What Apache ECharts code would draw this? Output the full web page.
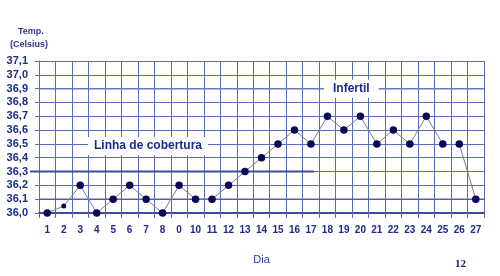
<!DOCTYPE html>
<html><head><meta charset="utf-8">
<script src="https://cdn.jsdelivr.net/npm/echarts@6/dist/echarts.min.js"></script>
<style>html,body{margin:0;padding:0;background:#fff}#c{width:500px;height:276px}</style>
</head><body><div id="c"></div>
<script>
const days = ['1','2','3','4','5','6','7','8','0','10','11','12','13','14','15','16','17','18','19','20','21','22','23','24','25','26','27'];
const temps = [36.0,36.05,36.2,36.0,36.1,36.2,36.1,36.0,36.2,36.1,36.1,36.2,36.3,36.4,36.5,36.6,36.5,36.7,36.6,36.7,36.5,36.6,36.5,36.7,36.5,36.5,36.1];
const segmentBreak = 25; // no connecting line between day 25 and day 26
const yMin = 36.0, yMax = 37.1, yStep = 0.1;
const coverageLevel = 36.3;
const infertileLevel = 36.9;
const axisTitle = ['Temp.', '(Celsius)'];
const xName = 'Dia';
const pageNo = '12';

const seg1 = temps.map((v, i) => i < segmentBreak ? v : null);
const seg2 = temps.map((v, i) => i >= segmentBreak ? v : null);

const gridColor = '#5a6ab6';
const navy = '#1c2a8c';
const chart = echarts.init(document.getElementById('c'), null, {renderer: 'canvas'});
const symSize = (v, p) => p.dataIndex === 1 ? 5 : 7.5;
const lineSeries = (data) => ({
  type: 'line', data: data, connectNulls: false, symbol: 'circle', symbolSize: symSize,
  itemStyle: {color: '#07075a'}, lineStyle: {color: '#7a7a92', width: 1}, z: 5, animation: false
});
chart.setOption({
  animation: false,
  grid: {left: 39, right: 16, top: 61, bottom: 63},
  xAxis: {
    type: 'category', data: days, boundaryGap: true,
    name: xName, nameLocation: 'middle', nameGap: 41,
    nameTextStyle: {color: '#2a3c9c', fontSize: 11, fontFamily: 'Arial'},
    axisLine: {lineStyle: {color: '#3e4e9e', width: 2}},
    axisTick: {show: true, length: 5, lineStyle: {color: gridColor}},
    axisLabel: {color: navy, fontWeight: 'bold', fontSize: 10, fontFamily: 'Arial', margin: 12, interval: 0},
    splitLine: {show: true, lineStyle: {color: gridColor, width: 1}}
  },
  yAxis: {
    type: 'value', min: yMin, max: yMax, interval: yStep,
    axisLine: {show: true, lineStyle: {color: gridColor}},
    axisTick: {show: true, length: 4, lineStyle: {color: gridColor}},
    axisLabel: {color: navy, fontWeight: 'bold', fontSize: 11, fontFamily: 'Arial', margin: 11,
      formatter: v => v.toFixed(1).replace('.', ',')},
    splitLine: {show: true, lineStyle: {color: gridColor, width: 1}}
  },
  series: [lineSeries(seg1), lineSeries(seg2)]
});

const yc = chart.convertToPixel({yAxisIndex: 0}, coverageLevel);
const yi = chart.convertToPixel({yAxisIndex: 0}, infertileLevel);
const y1 = chart.convertToPixel({yAxisIndex: 0}, 36.1);
chart.setOption({
  graphic: [
    {type: 'line', shape: {x1: 30, y1: yc, x2: 314, y2: yc}, style: {stroke: '#3e4e9e', lineWidth: 2}, z: 1},
    {type: 'line', shape: {x1: 39, y1: y1, x2: 484, y2: y1}, style: {stroke: '#5060ae', lineWidth: 1.4}, z: 1},
    {type: 'line', shape: {x1: 39, y1: yi, x2: 484, y2: yi}, style: {stroke: '#6878bc', lineWidth: 1.5}, z: 1},
    {type: 'text', left: 88, top: 137, z: 3,
      style: {text: 'Linha de cobertura', fill: '#1c2a8c', font: 'bold 12px Arial', backgroundColor: '#fff', padding: [3, 6, 3, 6]}},
    {type: 'text', left: 324, top: yi - 9, z: 3,
      style: {text: 'Infertil', fill: '#1c2a8c', font: 'bold 12px Arial', backgroundColor: '#fff', padding: [3, 9, 3, 9]}},
    {type: 'text', left: 18, top: 27, style: {text: axisTitle[0], fill: '#2a3a8c', font: 'bold 9px Arial', letterSpacing: 1.2}},
    {type: 'text', left: 10, top: 40, style: {text: axisTitle[1], fill: '#2a3a8c', font: 'bold 9px Arial', letterSpacing: 0.8}},
    {type: 'text', left: 455, top: 259, style: {text: pageNo, fill: '#1a1a5a', font: 'bold 11px "Liberation Serif", serif'}}
  ]
});
</script></body></html>
